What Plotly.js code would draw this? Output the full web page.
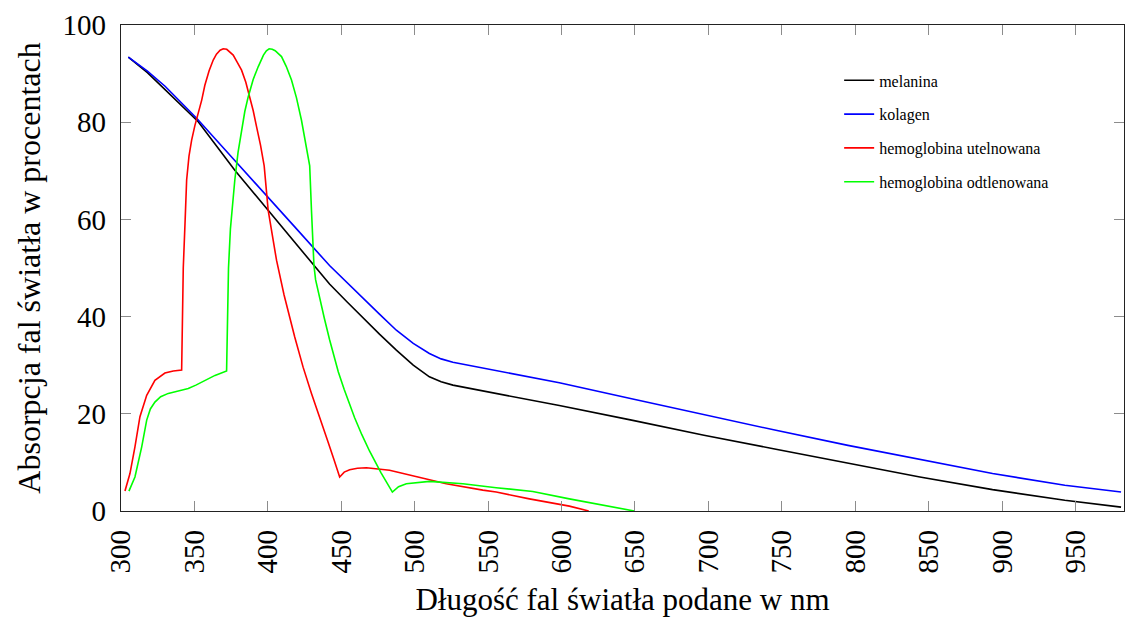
<!DOCTYPE html>
<html>
<head>
<meta charset="utf-8">
<script src="https://cdn.plot.ly/plotly-3.0.1.min.js"></script>
<style>html,body{margin:0;padding:0;background:#fff;}#chart{width:1127px;height:617px;}</style>
</head>
<body>
<div id="chart"></div>
<script>
// Data (wavelength in nm, absorption in %)
const melaninaX = [305, 318, 330, 352.6, 377.5, 399, 416, 433, 442, 454, 464.8, 476, 487.5, 499, 510, 518, 526, 550, 575, 598.5, 647.7, 697, 746, 795, 844, 893.5, 942.7, 981];
const melaninaY = [93.4, 90.2, 86.7, 80.1, 70.1, 62.3, 56.0, 49.9, 46.7, 43.0, 39.7, 36.4, 33.1, 30.0, 27.6, 26.6, 25.9, 24.5, 23.1, 21.7, 18.7, 15.6, 12.7, 9.9, 7.0, 4.4, 2.2, 0.8];

const kolagenX = [305, 318, 330, 351.5, 378.7, 399, 420, 442, 454, 464.8, 476, 487.5, 499, 510, 518, 526, 550, 575, 598.5, 647.7, 697, 746, 795, 844, 893.5, 942.7, 981];
const kolagenY = [93.4, 90.5, 87.4, 80.8, 71.7, 65.0, 57.9, 50.5, 46.9, 43.8, 40.5, 37.2, 34.5, 32.4, 31.3, 30.6, 29.2, 27.8, 26.4, 23.1, 19.8, 16.6, 13.5, 10.6, 7.7, 5.3, 3.9];

const utlenX = [302.7, 306.1, 309.5, 312.9, 317.5, 323.1, 329.9, 335.6, 341.3, 342.0, 342.4, 343.7, 344.7, 346.3, 348.1, 350.3, 352.6, 355, 357.1, 360, 362.8, 365, 367.5, 369.6, 372, 374.5, 376.4, 379, 382.1, 385, 387.7, 390, 392.3, 395, 397.5, 400.2, 405.9, 411, 418.3, 424, 429.7, 435, 441, 445, 448.9, 452, 455.7, 461, 467.1, 482.9, 498.8, 521.5, 546.4, 555.5, 578.1, 605.3, 618.5];
const utlenY = [4.1, 7.7, 13.2, 19.4, 23.8, 26.9, 28.4, 28.8, 29.0, 40, 50, 60, 68.1, 73, 76.3, 79.3, 81.8, 84.6, 87.6, 90.6, 92.8, 94.0, 94.8, 95.1, 95.0, 94.4, 93.8, 92.4, 90.7, 88.2, 85.2, 82.4, 79.1, 75.3, 71.0, 61.9, 51.6, 44.5, 35.8, 29.6, 24.2, 19.3, 14.2, 10.6, 7.0, 8.0, 8.5, 8.8, 8.9, 8.4, 7.3, 5.6, 4.3, 3.9, 2.5, 1.0, 0];

const odtlenX = [305.4, 309.5, 314.1, 317.5, 320, 323.1, 327, 332.2, 339, 345.8, 351, 357.1, 364, 371.9, 372.6, 373.2, 374.5, 376, 377.5, 379.7, 382.1, 384.3, 386.6, 390, 393.4, 397, 399, 400.9, 403, 405, 409.3, 412.5, 416.1, 419.5, 422.9, 425.7, 428.5, 429.7, 431.4, 432.5, 434.2, 436.3, 438.5, 442, 445, 448, 452, 455.7, 459.1, 464, 469.3, 477, 484.8, 489, 494.3, 510.1, 532.8, 555.5, 580.4, 605.3, 649.5];
const odtlenY = [4.1, 7.0, 13.2, 18.7, 21.0, 22.4, 23.5, 24.2, 24.7, 25.2, 25.9, 26.9, 27.9, 28.8, 40, 50, 58, 64, 68.1, 73.8, 78.4, 82.2, 85.2, 88.8, 91.4, 93.8, 94.7, 95.1, 95.0, 94.7, 93.5, 91.5, 88.7, 85.0, 80.4, 76.0, 71.0, 61.9, 50.5, 47.6, 45.2, 42.3, 39.6, 35.3, 31.8, 28.6, 25.0, 21.9, 19.2, 15.7, 12.3, 7.9, 3.9, 5.0, 5.6, 6.1, 5.6, 4.8, 4.0, 2.5, 0];

const seriesNames = ["melanina", "kolagen", "hemoglobina utelnowana", "hemoglobina odtlenowana"];
const seriesColors = ["#000000", "#0000ff", "#ff0000", "#00ff00"];
const xTicks = [300, 350, 400, 450, 500, 550, 600, 650, 700, 750, 800, 850, 900, 950];
const yTicks = [0, 20, 40, 60, 80, 100];

const xs = [melaninaX, kolagenX, utlenX, odtlenX];
const ys = [melaninaY, kolagenY, utlenY, odtlenY];

const FONT = '"Liberation Serif", "Times New Roman", serif';

const traces = seriesNames.map((n, i) => ({
  type: 'scatter', mode: 'lines', name: n,
  x: xs[i], y: ys[i],
  line: {color: seriesColors[i], width: 1.6},
  legendgroup: 'g' + i
}));

const layout = {
  width: 1127, height: 617,
  margin: {l: 121, r: 3, t: 25, b: 106},
  paper_bgcolor: '#ffffff', plot_bgcolor: '#ffffff',
  font: {family: FONT, color: '#000'},
  showlegend: true,
  legend: {
    x: 0.716, y: 0.921, xanchor: 'left', yanchor: 'top',
    bgcolor: 'rgba(255,255,255,0)', borderwidth: 0,
    font: {family: FONT, size: 16, color: '#000'},
    tracegroupgap: 10, traceorder: 'grouped'
  },
  xaxis: {
    range: [300, 983], tickvals: xTicks, ticktext: xTicks.map(String),
    tickangle: -90, tickfont: {family: FONT, size: 29},
    ticks: 'inside', ticklen: 10, tickwidth: 1, tickcolor: '#8c8c8c',
    showline: true, linecolor: '#222', linewidth: 1.3, mirror: 'ticks',
    showgrid: false, zeroline: false,
    ticklabelstandoff: 6,
    title: {text: 'Długość fal światła podane w nm', font: {family: FONT, size: 31}, standoff: 18}
  },
  yaxis: {
    range: [0, 100], tickvals: yTicks, ticktext: yTicks.map(String),
    tickfont: {family: FONT, size: 29},
    ticks: 'inside', ticklen: 10, tickwidth: 1, tickcolor: '#8c8c8c',
    showline: true, linecolor: '#222', linewidth: 1.3, mirror: 'ticks',
    showgrid: false, zeroline: false,
    ticklabelstandoff: 8,
    title: {text: 'Absorpcja fal światła w procentach', font: {family: FONT, size: 32}, standoff: 12}
  }
};

Plotly.newPlot('chart', traces, layout, {displayModeBar: false, staticPlot: true});
</script>
</body>
</html>
